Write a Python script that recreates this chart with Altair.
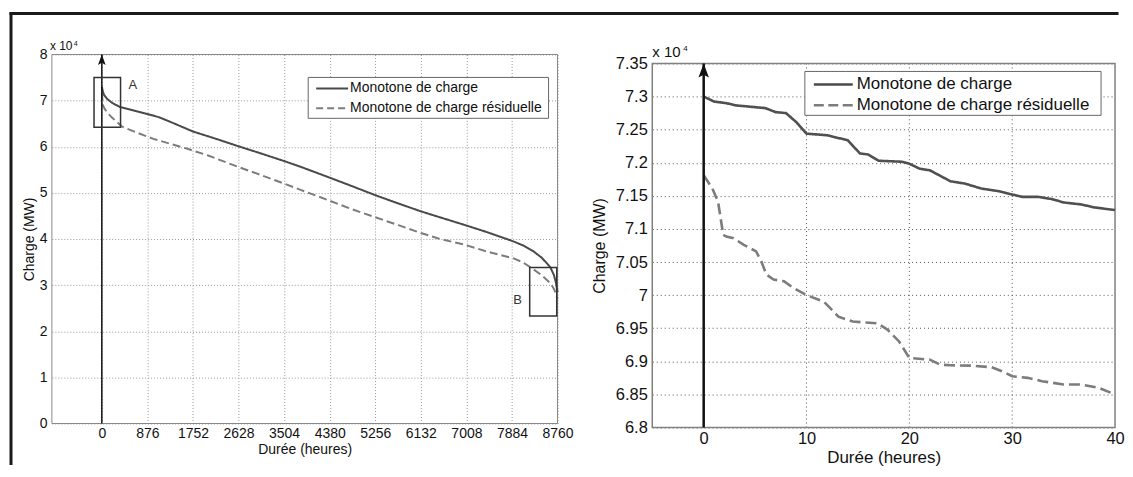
import altair as alt
import pandas as pd

FONT = "Liberation Sans"
S1 = "Monotone de charge"
S2 = "Monotone de charge résiduelle"

# ---- Left panel: full-year load duration curves (hours, MW) ----
year_hours_load = [0, 20, 40, 100, 200, 350, 600, 876, 1100, 1400, 1752, 2200, 2628, 3100,
                   3504, 3834, 4380, 4800, 5256, 5700, 6132, 6500, 6960, 7400, 7884, 8100,
                   8300, 8450, 8550, 8625, 8690, 8730, 8760]
year_load = [73000, 71990, 71285, 70400, 69500, 68600, 67900, 67100, 66400, 65000, 63300, 61700,
             60100, 58400, 56900, 55600, 53300, 51500, 49500, 47700, 46000, 44700, 43100, 41500,
             39600, 38600, 37300, 36000, 34800, 33800, 32200, 30500, 28500]
year_hours_resid = [0, 20, 40, 100, 200, 383, 600, 991, 1300, 1662, 2044, 2628, 3100, 3504, 3834,
                    4380, 4800, 5233, 5700, 6132, 6500, 6960, 7400, 7917, 8100, 8300, 8450, 8625,
                    8700, 8760]
year_resid = [71800, 69050, 68500, 67400, 66300, 64400, 63400, 61700, 60700, 59500, 58100, 55600,
              53700, 52000, 50600, 48300, 46500, 44800, 43000, 41300, 40000, 38800, 37300, 35800,
              34900, 33400, 32200, 30400, 29000, 27000]

# ---- Right panel: first 40 hours ----
zoom_hours_load = [0, 1, 2.2, 3.2, 4.3, 6, 7, 8, 9, 10, 12, 14, 15.2, 16, 17, 19.3, 20, 21, 22, 24,
                   25.4, 27, 28.7, 30, 31, 32.5, 33.9, 35, 36.7, 38, 40]
zoom_load = [73000, 72925, 72900, 72865, 72850, 72825, 72765, 72750, 72615, 72440, 72415, 72340,
             72140, 72125, 72030, 72015, 71985, 71910, 71885, 71720, 71685, 71610, 71570, 71520,
             71485, 71485, 71450, 71400, 71370, 71325, 71285]
zoom_hours_resid = [0, 0.85, 1.4, 1.9, 2.2, 2.9, 3.9, 5.1, 5.6, 6.1, 6.8, 7.8, 8.7, 10, 11.7, 13.1,
                    14.5, 16.9, 17.9, 19, 20, 22, 23, 24, 26, 28, 29, 30, 31.5, 32.9, 35, 36.7,
                    38.4, 40]
zoom_resid = [71810, 71610, 71410, 70910, 70885, 70860, 70760, 70660, 70510, 70310, 70235, 70210,
              70110, 70000, 69900, 69675, 69600, 69575, 69475, 69300, 69050, 69025, 68950, 68940,
              68935, 68910, 68850, 68775, 68750, 68700, 68650, 68650, 68600, 68500]

left_xticks = [0, 876, 1752, 2628, 3504, 4380, 5256, 6132, 7008, 7884, 8760]
left_yticks = [0, 10000, 20000, 30000, 40000, 50000, 60000, 70000, 80000]
right_xticks = [0, 10, 20, 30, 40]
right_yticks = [68000, 68500, 69000, 69500, 70000, 70500, 71000, 71500, 72000, 72500, 73000, 73500]

left_xdom = [-960, 8760]
left_ydom = [0, 80000]
right_xdom = [-5, 40]
right_ydom = [68000, 73500]

# zoom boxes A and B (data coords)
box_labels = ["A", "B"]
box_h = [-150, 8225]
box_h2 = [360, 8745]
box_v = [64200, 23300]
box_v2 = [75000, 33800]
lab_h = [594, 7993]
lab_v = [73300, 26800]

LOAD_COLOR = "#4a4a4a"
RESID_COLOR = "#7c7c7c"


def series_df(h1, v1, h2, v2):
    return pd.DataFrame({
        "h": list(h1) + list(h2),
        "v": list(v1) + list(v2),
        "s": [S1] * len(h1) + [S2] * len(h2),
    })


left_df = series_df(year_hours_load, year_load, year_hours_resid, year_resid)
right_df = series_df(zoom_hours_load, zoom_load, zoom_hours_resid, zoom_resid)
one = pd.DataFrame({"a": [0]})


def legend_layers(x0, y0, w, h, sx0, sx1, r1, r2, tx, fs, sw, dash):
    box = alt.Chart(one).mark_rect(fill="white", stroke="#666", strokeWidth=1).encode(
        x=alt.value(x0), x2=alt.value(x0 + w), y=alt.value(y0), y2=alt.value(y0 + h))
    s1 = alt.Chart(one).mark_rule(color=LOAD_COLOR, strokeWidth=sw).encode(
        x=alt.value(sx0), x2=alt.value(sx1), y=alt.value(r1))
    s2 = alt.Chart(one).mark_rule(color=RESID_COLOR, strokeWidth=sw, strokeDash=dash).encode(
        x=alt.value(sx0), x2=alt.value(sx1), y=alt.value(r2))
    t1 = alt.Chart(one).mark_text(font=FONT, fontSize=fs, color="#111", align="left",
                                  baseline="middle").encode(x=alt.value(tx), y=alt.value(r1),
                                                            text=alt.value(S1))
    t2 = alt.Chart(one).mark_text(font=FONT, fontSize=fs, color="#111", align="left",
                                  baseline="middle").encode(x=alt.value(tx), y=alt.value(r2),
                                                            text=alt.value(S2))
    return [box, s1, s2, t1, t2]


# ---------------- LEFT ----------------
LW, LH = 507, 370
lx = alt.X("h:Q", scale=alt.Scale(domain=left_xdom, nice=False, zero=False),
           axis=alt.Axis(values=left_xticks, format="d", title="Durée (heures)", labelFont=FONT,
                         labelFontSize=14, labelColor="#111", titleFont=FONT, titleFontSize=14,
                         titleFontWeight="normal", titleColor="#111", ticks=False, domain=False,
                         grid=True, gridColor="#9a9a9a", gridDash=[1, 2], gridWidth=1,
                         labelPadding=3, titlePadding=2, labelFlush=False, labelOverlap=False))
ly = alt.Y("v:Q", scale=alt.Scale(domain=left_ydom, nice=False, zero=False),
           axis=alt.Axis(values=left_yticks, labelExpr="format(datum.value/10000, '~g')",
                         title="Charge (MW)", labelFont=FONT, labelFontSize=14, labelColor="#111",
                         titleFont=FONT, titleFontSize=14, titleFontWeight="normal", titleColor="#111",
                         ticks=False, domain=False, grid=True, gridColor="#9a9a9a", gridDash=[1, 2],
                         gridWidth=1, labelPadding=5, titlePadding=3, labelFlush=False,
                         labelOverlap=False))

left_box_df = pd.DataFrame({"h": [left_xdom[0]], "h2": [left_xdom[1]], "v": [left_ydom[0]], "v2": [left_ydom[1]]})
left_box = alt.Chart(left_box_df).mark_rect(fillOpacity=0, stroke="#888", strokeWidth=1).encode(
    x=lx, x2="h2:Q", y=ly, y2="v2:Q")

left_lines = alt.Chart(left_df).mark_line(strokeWidth=2).encode(
    x=lx, y=ly,
    color=alt.Color("s:N", scale=alt.Scale(domain=[S1, S2], range=[LOAD_COLOR, RESID_COLOR]), legend=None),
    strokeDash=alt.StrokeDash("s:N", scale=alt.Scale(domain=[S1, S2], range=[[1, 0], [8, 4]]), legend=None),
)

left_arrow_df = pd.DataFrame({"h": [0], "v": [left_ydom[0]], "v2": [left_ydom[1]]})
left_arrow = alt.Chart(left_arrow_df).mark_rule(color="#111", strokeWidth=1.5).encode(x=lx, y=ly, y2="v2:Q")
ARROW = "M0,-1L0.65,0.75L0,0.4L-0.65,0.75Z"
left_head = alt.Chart(pd.DataFrame({"h": [0], "v": [left_ydom[1]]})).mark_point(
    shape=ARROW, size=140, filled=True, color="#111", opacity=1, strokeWidth=0, yOffset=6).encode(x=lx, y=ly)

ab_df = pd.DataFrame({"h": box_h, "h2": box_h2, "v": box_v, "v2": box_v2})
ab_boxes = alt.Chart(ab_df).mark_rect(fillOpacity=0, stroke="#333", strokeWidth=1.5).encode(
    x=lx, x2="h2:Q", y=ly, y2="v2:Q")
ab_text = alt.Chart(pd.DataFrame({"h": lab_h, "v": lab_v, "t": box_labels})).mark_text(
    font=FONT, fontSize=13, color="#333").encode(x=lx, y=ly, text="t:N")

left_exp = alt.Chart(one).mark_text(font=FONT, fontSize=12, color="#111", align="left",
                                    baseline="alphabetic").encode(
    x=alt.value(-2), y=alt.value(-5), text=alt.value("x 10"))
left_exp4 = alt.Chart(one).mark_text(font=FONT, fontSize=7, color="#111", align="left",
                                     baseline="alphabetic").encode(
    x=alt.value(22), y=alt.value(-9), text=alt.value("4"))

frame_top = alt.Chart(one).mark_rule(color="#1a1a1a", strokeWidth=3, strokeCap="square").encode(
    x=alt.value(-41), x2=alt.value(1068), y=alt.value(-41))
frame_left = alt.Chart(one).mark_rule(color="#1a1a1a", strokeWidth=3, strokeCap="square").encode(
    x=alt.value(-41), y=alt.value(-41), y2=alt.value(410))

left_legend = legend_layers(257, 23, 241, 41, 265, 297, 34, 54, 299, 14, 2, [7, 4])

left = alt.layer(left_box, left_lines, left_arrow, left_head, ab_boxes, ab_text, left_exp, left_exp4,
                 *left_legend, frame_top, frame_left).properties(width=LW, height=LH)

# ---------------- RIGHT ----------------
RW, RH = 464, 374
TOPOFF = 9
rx = alt.X("h:Q", scale=alt.Scale(domain=right_xdom, nice=False, zero=False),
           axis=alt.Axis(values=right_xticks, title="Durée (heures)", labelFont=FONT, labelFontSize=16.5,
                         labelColor="#111", titleFont=FONT, titleFontSize=17, titleFontWeight="normal",
                         titleColor="#111", ticks=False, domain=False, grid=False, labelPadding=3,
                         titlePadding=3, labelFlush=False, labelOverlap=False))
ry = alt.Y("v:Q", scale=alt.Scale(domain=right_ydom, nice=False, zero=False, range=[RH, TOPOFF]),
           axis=alt.Axis(values=right_yticks, labelExpr="format(datum.value/10000, '.3~g')",
                         title="Charge (MW)", labelFont=FONT, labelFontSize=16.5, labelColor="#111",
                         titleFont=FONT, titleFontSize=16, titleFontWeight="normal", titleColor="#111",
                         ticks=False, domain=False, grid=True, gridColor="#555", gridDash=[1, 3],
                         gridWidth=1, labelPadding=5, titlePadding=8, labelFlush=False,
                         labelOverlap=False))

right_grid_df = pd.DataFrame({"h": [10, 20, 30], "v": [right_ydom[0]] * 3, "v2": [right_ydom[1]] * 3})
right_grid = alt.Chart(right_grid_df).mark_rule(color="#555", strokeWidth=1, strokeDash=[1, 3]).encode(
    x=rx, y=ry, y2="v2:Q")
right_box_df = pd.DataFrame({"h": [right_xdom[0]], "h2": [right_xdom[1]], "v": [right_ydom[0]], "v2": [right_ydom[1]]})
right_box = alt.Chart(right_box_df).mark_rect(fillOpacity=0, stroke="#808080", strokeWidth=1.5).encode(
    x=rx, x2="h2:Q", y=ry, y2="v2:Q")

right_lines = alt.Chart(right_df).mark_line(strokeWidth=2.6).encode(
    x=rx, y=ry,
    color=alt.Color("s:N", scale=alt.Scale(domain=[S1, S2], range=["#505050", RESID_COLOR]), legend=None),
    strokeDash=alt.StrokeDash("s:N", scale=alt.Scale(domain=[S1, S2], range=[[1, 0], [11, 5]]), legend=None),
)
right_arrow_df = pd.DataFrame({"h": [0], "v": [right_ydom[0]], "v2": [right_ydom[1]]})
right_arrow = alt.Chart(right_arrow_df).mark_rule(color="#111", strokeWidth=2.5).encode(x=rx, y=ry, y2="v2:Q")
right_head = alt.Chart(pd.DataFrame({"h": [0], "v": [right_ydom[1]]})).mark_point(
    shape=ARROW, size=260, filled=True, color="#111", opacity=1, strokeWidth=0, yOffset=8).encode(x=rx, y=ry)

right_exp = alt.Chart(one).mark_text(font=FONT, fontSize=15, color="#111", align="left",
                                     baseline="alphabetic").encode(
    x=alt.value(0), y=alt.value(3), text=alt.value("x 10"))
right_exp4 = alt.Chart(one).mark_text(font=FONT, fontSize=8, color="#111", align="left",
                                      baseline="alphabetic").encode(
    x=alt.value(31), y=alt.value(-4), text=alt.value("4"))

right_legend = legend_layers(153, 17, 297, 44, 162, 201, 30, 51, 205, 17, 2.5, [10, 4.5])

right = alt.layer(right_grid, right_box, right_lines, right_arrow, right_head, right_exp,
                  right_exp4, *right_legend).properties(width=RW, height=RH)

chart = alt.hconcat(left, right, spacing=95, bounds="flush").resolve_scale(
    color="independent", strokeDash="independent", x="independent", y="independent"
).properties(
    padding={"left": 0, "top": 2, "right": 0, "bottom": 0}, background="white"
).configure_view(stroke=None)

chart.save("out.html", embed_options={"renderer": "svg", "actions": False})
